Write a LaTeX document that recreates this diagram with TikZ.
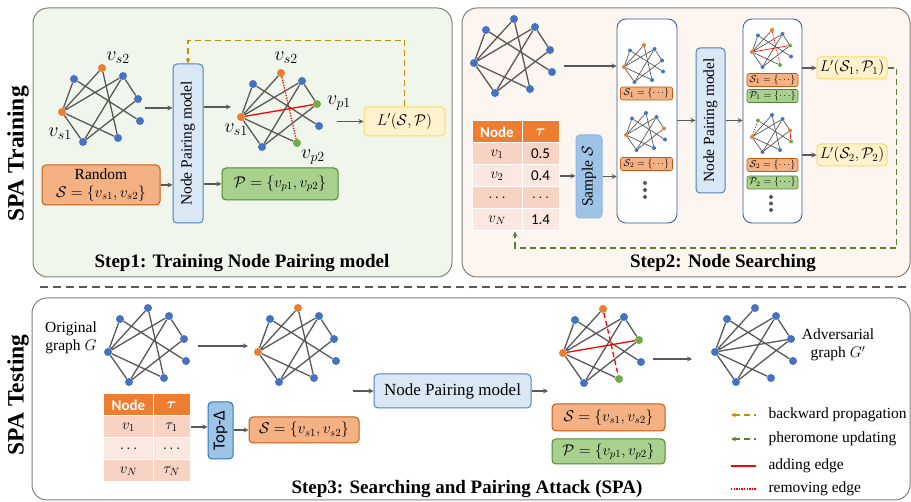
\documentclass[tikz,border=0pt]{standalone}
\usepackage{fix-cm}
\usepackage{bm}
\usepackage{fontspec}
\setmainfont{Liberation Serif}
\newfontfamily\cellfont{Carlito}
\usepackage{graphicx}
\usetikzlibrary{calc}

\definecolor{bluedot}{HTML}{4472C4}
\definecolor{orangedot}{HTML}{ED7D31}
\definecolor{greendot}{HTML}{70AD47}
\definecolor{edgegray}{HTML}{595959}
\definecolor{trainbg}{HTML}{F0F6EB}
\definecolor{searchbg}{HTML}{FDF5EF}
\definecolor{panelline}{HTML}{808080}
\definecolor{modelfill}{HTML}{DAE8F6}
\definecolor{modelline}{HTML}{4F81BD}
\definecolor{setfill}{HTML}{F4B183}
\definecolor{setline}{HTML}{C55A11}
\definecolor{pairfill}{HTML}{A9D18E}
\definecolor{pairline}{HTML}{548235}
\definecolor{lossfill}{HTML}{FFF2CC}
\definecolor{lossline}{HTML}{FFD966}
\definecolor{pickfill}{HTML}{9DC3E6}
\definecolor{pickline}{HTML}{2E75B6}
\definecolor{pickedge}{HTML}{8EB4E3}
\definecolor{poolline}{HTML}{2F5597}
\definecolor{headfill}{HTML}{ED7D31}
\definecolor{rowdark}{HTML}{F8D3C4}
\definecolor{rowlight}{HTML}{FBE8E0}
\definecolor{backgold}{HTML}{BF9000}
\definecolor{pherogreen}{HTML}{548235}

\newcommand{\boxfont}{\fontsize{15.5}{18}\selectfont}
\newcommand{\cellsize}{\fontsize{15}{18}\selectfont}
\newcommand{\titlefont}{\fontsize{19}{22}\selectfont\bfseries}
\newcommand{\sidefont}{\fontsize{23.5}{26}\selectfont\bfseries}
\newcommand{\smallsetfont}{\fontsize{10}{12}\selectfont}

% the toy graph, (-f) is its left node
\tikzset{
  dot/.style={circle, inner sep=0pt, minimum size=8pt, fill=bluedot},
  netline/.style={draw=edgegray, line width=1.3pt},
  addline/.style={draw=red, line width=1.3pt},
  cutline/.style={draw=red, line width=1.3pt, dash pattern=on 1.3pt off 1.3pt},
  cutdash/.style={draw=red, line width=1.3pt, dash pattern=on 5pt off 3pt},
  seednode/.style={fill=orangedot},
  pairnode/.style={fill=greendot},
  dota/.style={}, dotb/.style={}, dotc/.style={}, dotd/.style={},
  dote/.style={}, dotf/.style={}, dotg/.style={}, doth/.style={},
  fbedge/.style={}, ahedge/.style={},
  smallnet/.style={scale=.5, transform shape, netline/.append style={line width=.7pt}},
  net/.pic={
    \node[dot, dota] (-a) at (40,-44) {};
    \node[dot, dotb] (-b) at (12,-33) {};
    \node[dot, dotc] (-c) at (61,-36) {};
    \node[dot, dotd] (-d) at (76,-13) {};
    \node[dot, dote] (-e) at (78,9) {};
    \node[dot, dotf] (-f) at (0,0) {};
    \node[dot, dotg] (-g) at (21,30) {};
    \node[dot, doth] (-h) at (56,26) {};
    \draw[netline] (-f) -- (-a) (-f) -- (-c) (-f) -- (-h) (-f) -- (-g)
      (-b) -- (-e) (-c) -- (-g) (-c) -- (-d) (-d) -- (-g);
    \draw[netline, fbedge] (-f) -- (-b);
    \draw[netline, ahedge] (-a) -- (-h);
  },
}

\begin{document}
\begin{tikzpicture}[x=1pt, y=-1pt, >=stealth,
  every node/.style={font=\boxfont},
  panel/.style={draw=panelline, line width=1pt, rounded corners=15pt},
  box/.style={rectangle, rounded corners=4pt, line width=1pt, inner sep=1pt, align=center},
  modelbox/.style={box, fill=modelfill, draw=modelline},
  setbox/.style={box, fill=setfill, draw=setline},
  pairbox/.style={box, fill=pairfill, draw=pairline},
  lossbox/.style={box, fill=lossfill, draw=lossline},
  pickbox/.style={box, fill=pickfill, draw=pickline},
  poolbox/.style={rectangle, rounded corners=9pt, draw=poolline, line width=.8pt, fill=white},
  tinyset/.style={setbox, rounded corners=2pt, line width=.6pt, inner sep=0pt, minimum width=52pt, minimum height=13pt, font=\smallsetfont},
  tinypair/.style={tinyset, fill=pairfill, draw=pairline},
  cell/.style={rectangle, draw=white, line width=1pt, inner sep=0pt, minimum height=22pt, font=\cellfont\cellsize},
  namecol/.style={cell, minimum width=50pt},
  taucol/.style={cell, minimum width=37pt},
  headcell/.style={fill=headfill, text=white, font=\cellfont\cellsize\bfseries},
  darkrow/.style={fill=rowdark},
  lightrow/.style={fill=rowlight},
  flow/.style={->, draw=edgegray, line width=1.2pt},
  backprop/.style={->, draw=backgold, line width=1.2pt, dash pattern=on 6pt off 4pt},
  phero/.style={->, draw=pherogreen, line width=1.2pt, dash pattern=on 6pt off 4pt},
  lbl/.style={font=\fontsize{20}{22}\selectfont},
  steptitle/.style={font=\titlefont},
  sidetitle/.style={font=\sidefont, rotate=90},
]
\useasboundingbox (0,0) rectangle (911,502);

% panels
\draw[panel, fill=trainbg] (33,8) rectangle (452,277);
\draw[panel, fill=searchbg] (462,8) rectangle (910,277);
\draw[panel, fill=white] (32,298) rectangle (910,500);
\draw[draw=edgegray, line width=1.5pt, dash pattern=on 8pt off 5pt] (40,287) -- (911,287);

\node[sidetitle] (train) at (18,154) {SPA Training};
\node[sidetitle] (test) at (18,395) {SPA Testing};

% step 1
\pic[dota/.style=seednode, dotf/.style=seednode] (g1) at (62,112) {net};
\node[lbl] (g1s2) at (118,58) {$v_{s2}$};
\node[lbl] (g1s1) at (60,134) {$v_{s1}$};
\node[modelbox, minimum width=30pt, minimum height=159pt] (npm1) at (188,143.5) {\rotatebox{90}{Node Pairing model}};
\node[setbox, minimum width=118pt, minimum height=40pt] (random) at (101,185) {Random\\$\mathcal{S}=\{v_{s1},v_{s2}\}$};
\node[pairbox, minimum width=116pt, minimum height=32pt] (pset1) at (280,184) {$\mathcal{P}=\{v_{p1},v_{p2}\}$};
\pic[dota/.style=seednode, dotf/.style=seednode, dotd/.style=pairnode, doth/.style=pairnode, ahedge/.style=cutline] (g2) at (241,117) {net};
\draw[addline] (g2-f) -- (g2-d);
\node[lbl] (g2s2) at (286,58) {$v_{s2}$};
\node[lbl] (g2p1) at (339,103) {$v_{p1}$};
\node[lbl] (g2s1) at (236,130) {$v_{s1}$};
\node[lbl] (g2p2) at (313,157) {$v_{p2}$};
\node[lossbox, minimum width=81pt, minimum height=29pt] (loss1) at (404.5,121.5) {$L'(\mathcal{S},\mathcal{P})$};

\coordinate (in1) at (145,108);
\coordinate (out1) at (231,107);
\coordinate (out2) at (337,121.5);
\draw[flow] (in1) -- (in1 -| npm1.west);
\draw[flow] (random.east) -- (random.east -| npm1.west);
\draw[flow] (out1 -| npm1.east) -- (out1);
\draw[flow] (npm1.east |- pset1.west) -- (pset1.west);
\draw[flow] (out2) -- (loss1.west);
\draw[backprop] (loss1.north) -- ++(0,-66) -| (npm1.north);

\node[steptitle] (step1) at (242,263) {Step1: Training Node Pairing model};

% step 2
\pic (g3) at (474,63) {net};
\node[poolbox, minimum width=60pt, minimum height=204pt] (pool1) at (647,121) {};
\pic[smallnet, dota/.style=seednode, dotf/.style=seednode] (g4) at (624,67) {net};
\node[tinyset] (s1a) at (646.5,93.5) {$\mathcal{S}_1=\{\cdots\}$};
\pic[smallnet, dotf/.style=seednode, dotd/.style=seednode] (g5) at (626,135) {net};
\node[tinyset] (s2a) at (646.5,164) {$\mathcal{S}_2=\{\cdots\}$};
\fill[edgegray] (645,183) circle (2pt) (645,190) circle (2pt) (645,197) circle (2pt);

\node[namecol, headcell] (t1h1) at (497,132) {Node};
\node[taucol, headcell] (t1h2) at (540.5,132) {$\bm{\tau}$};
\node[namecol, darkrow] (t1r1a) at (497,154) {$v_1$};
\node[taucol, darkrow] (t1r1b) at (540.5,154) {0.5};
\node[namecol, lightrow] (t1r2a) at (497,176) {$v_2$};
\node[taucol, lightrow] (t1r2b) at (540.5,176) {0.4};
\node[namecol, darkrow] (t1r3a) at (497,198) {$\cdots$};
\node[taucol, darkrow] (t1r3b) at (540.5,198) {$\cdots$};
\node[namecol, lightrow] (t1r4a) at (497,220) {$v_N$};
\node[taucol, lightrow] (t1r4b) at (540.5,220) {1.4};

\node[pickbox, draw=pickedge, minimum width=26pt, minimum height=83pt] (sample) at (589,176.5) {\rotatebox{90}{Sample $\mathcal{S}$}};
\node[modelbox, minimum width=29pt, minimum height=145pt] (npm2) at (710.5,120.5) {\rotatebox{90}{Node Pairing model}};
\node[poolbox, minimum width=59pt, minimum height=204pt] (pool2) at (772.5,121) {};
\pic[smallnet, dota/.style=seednode, dotf/.style=seednode, dotd/.style=pairnode, doth/.style=pairnode, ahedge/.style={cutline, line width=.7pt}] (g6) at (752,52) {net};
\draw[addline, line width=.7pt] (g6-f) -- (g6-d);
\node[tinyset, minimum width=51pt] (s1b) at (772.5,80) {$\mathcal{S}_1=\{\cdots\}$};
\node[tinypair, minimum width=51pt] (p1b) at (772.5,96) {$\mathcal{P}_1=\{\cdots\}$};
\pic[smallnet, dotf/.style=seednode, dotd/.style=seednode, dotb/.style=pairnode, dote/.style=pairnode, fbedge/.style={cutline, line width=.7pt}] (g7) at (752,137) {net};
\draw[addline, line width=.7pt] (g7-d) -- (g7-e);
\node[tinyset, minimum width=51pt] (s2b) at (772.5,165) {$\mathcal{S}_2=\{\cdots\}$};
\node[tinypair, minimum width=51pt] (p2b) at (772.5,182.5) {$\mathcal{P}_2=\{\cdots\}$};
\fill[edgegray] (771,197) circle (2pt) (771,203.5) circle (2pt) (771,210) circle (2pt);
\node[lossbox, minimum width=70pt, minimum height=22pt] (loss2a) at (852,68) {$L'(\mathcal{S}_1,\mathcal{P}_1)$};
\node[lossbox, minimum width=70pt, minimum height=22pt] (loss2b) at (852,155) {$L'(\mathcal{S}_2,\mathcal{P}_2)$};

\coordinate (in3) at (564,66);
\coordinate (phturn) at (515,248);
\draw[flow] (in3) -- (in3 -| pool1.west);
\draw[flow] (t1r2b.east) -- (t1r2b.east -| sample.west);
\draw[flow] (sample.east) -- (sample.east -| pool1.west);
\draw[flow] (pool1.east |- npm2.west) -- (npm2.west);
\draw[flow] (npm2.east) -- (npm2.east -| pool2.west);
\draw[flow] (pool2.east |- loss2a.west) -- (loss2a.west);
\draw[flow] (pool2.east |- loss2b.west) -- (loss2b.west);
\draw[phero] (loss2a.east) -- ++(9,0) |- (phturn) -- (phturn |- t1r4a.south);

\node[steptitle] (step2) at (723,263) {Step2: Node Searching};

% step 3
\node[align=center] (orig) at (71,338) {Original\\graph $G$};
\pic (g8) at (108,352) {net};
\pic[dota/.style=seednode, dotf/.style=seednode] (g9) at (258,352) {net};

\node[namecol, headcell] (t2h1) at (128.5,405) {Node};
\node[taucol, headcell] (t2h2) at (171.5,405) {$\bm{\tau}$};
\node[namecol, darkrow] (t2r1a) at (128.5,427) {$v_1$};
\node[taucol, darkrow] (t2r1b) at (171.5,427) {$\tau_1$};
\node[namecol, lightrow] (t2r2a) at (128.5,449) {$\cdots$};
\node[taucol, lightrow] (t2r2b) at (171.5,449) {$\cdots$};
\node[namecol, darkrow] (t2r3a) at (128.5,471) {$v_N$};
\node[taucol, darkrow] (t2r3b) at (171.5,471) {$\tau_N$};

\node[pickbox, minimum width=25pt, minimum height=57pt] (topk) at (220.5,430.5) {\rotatebox{90}{\cellfont\fontsize{17}{20}\selectfont Top-Δ}};
\node[setbox, minimum width=110pt, minimum height=26pt] (sset) at (304,430) {$\mathcal{S}=\{v_{s1},v_{s2}\}$};
\node[modelbox, minimum width=157pt, minimum height=34pt, font=\fontsize{17}{20}\selectfont] (npm3) at (452.5,391) {Node Pairing model};
\pic[dota/.style=seednode, dotf/.style=seednode, dotd/.style=pairnode, doth/.style=pairnode, ahedge/.style=cutdash] (g10) at (563,353) {net};
\draw[addline] (g10-f) -- (g10-d);
\node[setbox, minimum width=113pt, minimum height=27pt] (sres) at (608.5,417.5) {$\mathcal{S}=\{v_{s1},v_{s2}\}$};
\node[pairbox, minimum width=113pt, minimum height=25pt] (pres) at (608.5,451.5) {$\mathcal{P}=\{v_{p1},v_{p2}\}$};
\pic[ahedge/.style={draw=none}] (g11) at (715,352) {net};
\draw[netline] (g11-f) -- (g11-d);
\node[align=center] (adv) at (838,345) {Adversarial\\graph $G'$};

\coordinate (in8) at (198,346);
\coordinate (out8) at (248,346);
\coordinate (in9) at (353,391);
\coordinate (out10) at (548,391);
\coordinate (in11) at (653,359);
\coordinate (out11) at (692,359);
\draw[flow] (in8) -- (out8);
\draw[flow] (t2r1b.east) -- (t2r1b.east -| topk.west);
\draw[flow] (topk.east |- sset.west) -- (sset.west);
\draw[flow] (in9) -- (npm3.west);
\draw[flow] (npm3.east) -- (out10);
\draw[flow] (in11) -- (out11);

% legend
\node[anchor=west] (leg1) at (765,415) {backward propagation};
\node[anchor=west] (leg2) at (765,439) {pheromone updating};
\node[anchor=west] (leg3) at (765,466) {adding edge};
\node[anchor=west] (leg4) at (765,489) {removing edge};
\draw[backprop, <-] ([xshift=-34pt]leg1.west) -- ([xshift=-9pt]leg1.west);
\draw[phero, <-] ([xshift=-34pt]leg2.west) -- ([xshift=-9pt]leg2.west);
\draw[addline] ([xshift=-34pt]leg3.west) -- ([xshift=-9pt]leg3.west);
\draw[cutline] ([xshift=-34pt]leg4.west) -- ([xshift=-9pt]leg4.west);

\node[steptitle] (step3) at (467,489) {Step3: Searching and Pairing Attack (SPA)};
\end{tikzpicture}
\end{document}
